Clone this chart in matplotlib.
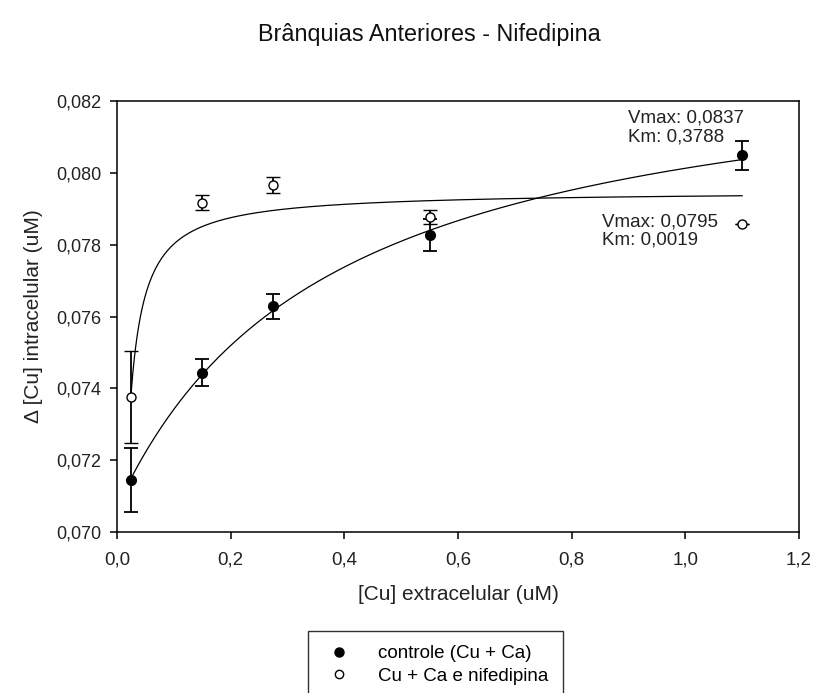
import matplotlib.pyplot as plt
import numpy as np
from matplotlib.lines import Line2D
from matplotlib.ticker import FuncFormatter, MultipleLocator

plt.rcParams['font.family'] = ['Liberation Sans', 'DejaVu Sans']

# [Cu] extracelular (uM)
cu_ext = [0.025, 0.15, 0.275, 0.55, 1.1]

# controle (Cu + Ca)
ctrl_mean = [0.07145, 0.07444, 0.07628, 0.07827, 0.08049]
ctrl_err = [0.00090, 0.00037, 0.00036, 0.00045, 0.00041]

# Cu + Ca e nifedipina
nif_mean = [0.07377, 0.07917, 0.07967, 0.07878, 0.07858]
nif_err = [0.00128, 0.00020, 0.00022, 0.00019, 0.0]

# hyperbolic fits: y = y0 + (Vmax - y0) * x / (Km + x)
ctrl_vmax, ctrl_km, ctrl_y0 = 0.0837, 0.3788, 0.0707
nif_vmax, nif_km, nif_y0 = 0.0795, 0.0019, 0.0


def hyperbola(x, vmax, km, y0):
    return y0 + (vmax - y0) * x / (km + x)


def comma(fmt):
    return FuncFormatter(lambda v, p: fmt.format(v).replace('.', ','))


fig = plt.figure(figsize=(8.14, 6.93), dpi=100)
ax = fig.add_axes([0.1437, 0.2323, 0.8378, 0.6219])

xs = np.linspace(min(cu_ext), max(cu_ext), 400)
ax.plot(xs, hyperbola(xs, ctrl_vmax, ctrl_km, ctrl_y0), color='black', lw=0.9)
ax.plot(xs, hyperbola(xs, nif_vmax, nif_km, nif_y0), color='black', lw=0.9)

ax.errorbar(cu_ext, ctrl_mean, yerr=ctrl_err, fmt='o', ms=7, mfc='black',
            mec='black', ecolor='black', elinewidth=1.3, capsize=4.7,
            capthick=1.3, zorder=3)
ax.errorbar(cu_ext, nif_mean, yerr=nif_err, fmt='o', ms=6.5, mfc='white',
            mec='black', mew=1.0, ecolor='black', elinewidth=1.3, capsize=4.7,
            capthick=1.3, zorder=3)

ax.text(0.900, 0.08126, 'Vmax: 0,0837\nKm: 0,3788', fontsize=13.5,
        color='#222222', va='center', ha='left', linespacing=1.12)
ax.text(0.854, 0.07838, 'Vmax: 0,0795\nKm: 0,0019', fontsize=13.5,
        color='#222222', va='center', ha='left', linespacing=1.12)

ax.set_xlim(0, 1.2)
ax.set_ylim(0.070, 0.082)
ax.xaxis.set_major_locator(MultipleLocator(0.2))
ax.yaxis.set_major_locator(MultipleLocator(0.002))
ax.xaxis.set_major_formatter(comma('{:.1f}'))
ax.yaxis.set_major_formatter(comma('{:.3f}'))
ax.tick_params(direction='out', length=5, width=1.1, labelcolor='#222222',
               top=False, right=False)
ax.tick_params(axis='x', labelsize=13.5, pad=9)
ax.tick_params(axis='y', labelsize=13, pad=6)
for s in ax.spines.values():
    s.set_linewidth(1.1)

ax.set_xlabel('[Cu] extracelular (uM)', fontsize=15, color='#222222', labelpad=12)
ax.set_ylabel('Δ [Cu] intracelular (uM)', fontsize=15, color='#222222', labelpad=10)

fig.text(0.527, 0.950, 'Brânquias Anteriores - Nifedipina', fontsize=16.8,
         ha='center', va='center', color='#111111')

handles = [
    Line2D([], [], ls='none', marker='o', ms=6.5, mfc='black', mec='black'),
    Line2D([], [], ls='none', marker='o', ms=6, mfc='white', mec='black'),
]
leg = fig.legend(handles, ['controle (Cu + Ca)', 'Cu + Ca e nifedipina'],
                 loc='upper left', bbox_to_anchor=(308 / 814, 1 - 631 / 693),
                 fontsize=13.5, frameon=True, fancybox=False, borderpad=0.75,
                 handletextpad=1.2, labelspacing=0.3, borderaxespad=0,
                 handlelength=1.8)
leg.get_frame().set_edgecolor('black')
leg.get_frame().set_linewidth(1.0)

fig.savefig('out.png', dpi=100)
